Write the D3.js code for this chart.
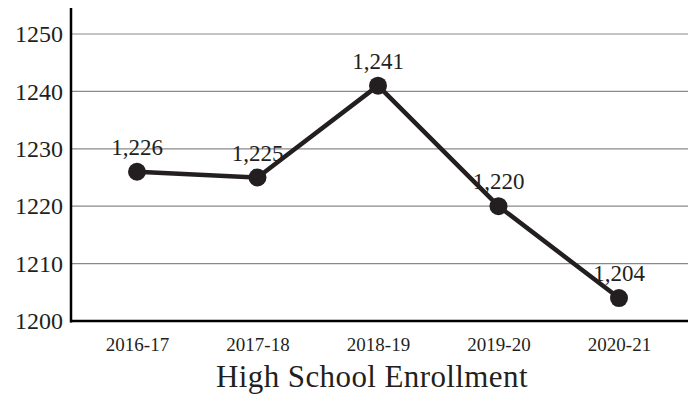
<!DOCTYPE html>
<html>
<head>
<meta charset="utf-8">
<script src="https://cdn.jsdelivr.net/npm/d3@7"></script>
<style>
  html, body { margin: 0; padding: 0; background: #fff; }
  svg { display: block; font-family: "Liberation Serif", "DejaVu Serif", serif; }
</style>
</head>
<body>
<svg id="chart" width="688" height="396"></svg>
<script>
// Enrollment by school year
const years = ["2016-17", "2017-18", "2018-19", "2019-20", "2020-21"];
const enrollment = [1226, 1225, 1241, 1220, 1204];
const yTicks = [1200, 1210, 1220, 1230, 1240, 1250];
const chartTitle = "High School Enrollment";

const svg = d3.select("#chart");
const W = 688, H = 396;
const axisX = 71, baseY = 321, topY = 34;

const x = d3.scalePoint().domain(years).range([137, 619]);
const y = d3.scaleLinear().domain([1200, 1250]).range([baseY, topY]);

const ink = "#231f20";

// Horizontal gridlines
svg.append("g")
  .selectAll("line")
  .data(yTicks.filter(t => t !== 1200))
  .join("line")
  .attr("x1", axisX).attr("x2", W)
  .attr("y1", d => y(d)).attr("y2", d => y(d))
  .attr("stroke", "#8a8a8a").attr("stroke-width", 1.2);

// Y axis labels
const yAxis = d3.axisLeft(y).tickValues(yTicks).tickSize(0).tickPadding(8).tickFormat(d3.format("d"));
const gy = svg.append("g").attr("transform", `translate(${axisX},0)`).call(yAxis);
gy.select(".domain").remove();
gy.selectAll("text")
  .attr("font-family", "'Liberation Serif', serif")
  .attr("font-size", 24)
  .attr("fill", ink);

// X axis labels
const xAxis = d3.axisBottom(x).tickSize(0).tickPadding(17);
const gx = svg.append("g").attr("transform", `translate(0,${baseY})`).call(xAxis);
gx.select(".domain").remove();
gx.selectAll("text")
  .attr("font-family", "'Liberation Serif', serif")
  .attr("font-size", 19)
  .attr("fill", ink);

// Axis lines
svg.append("line")
  .attr("x1", axisX).attr("x2", axisX)
  .attr("y1", 8).attr("y2", baseY + 1.5)
  .attr("stroke", "#000").attr("stroke-width", 2.5);
svg.append("line")
  .attr("x1", axisX - 1).attr("x2", W)
  .attr("y1", baseY).attr("y2", baseY)
  .attr("stroke", "#000").attr("stroke-width", 2.5);

// Markers
svg.append("g")
  .selectAll("circle")
  .data(enrollment)
  .join("circle")
  .attr("cx", (d, i) => x(years[i]))
  .attr("cy", d => y(d))
  .attr("r", 9)
  .attr("fill", ink);

// Line
const line = d3.line()
  .x((d, i) => x(years[i]))
  .y(d => y(d));
svg.append("path")
  .datum(enrollment)
  .attr("d", line)
  .attr("fill", "none")
  .attr("stroke", ink)
  .attr("stroke-width", 4.5)
  .attr("stroke-linejoin", "round");

// Value labels
svg.append("g")
  .selectAll("text")
  .data(enrollment)
  .join("text")
  .attr("x", (d, i) => x(years[i]))
  .attr("y", d => y(d) - 17)
  .attr("text-anchor", "middle")
  .attr("font-size", 23)
  .attr("fill", ink)
  .text(d => d3.format(",")(d));

// Title
svg.append("text")
  .attr("x", 372)
  .attr("y", 387)
  .attr("text-anchor", "middle")
  .attr("font-size", 31)
  .attr("letter-spacing", 0.4)
  .attr("fill", ink)
  .text(chartTitle);
</script>
</body>
</html>
